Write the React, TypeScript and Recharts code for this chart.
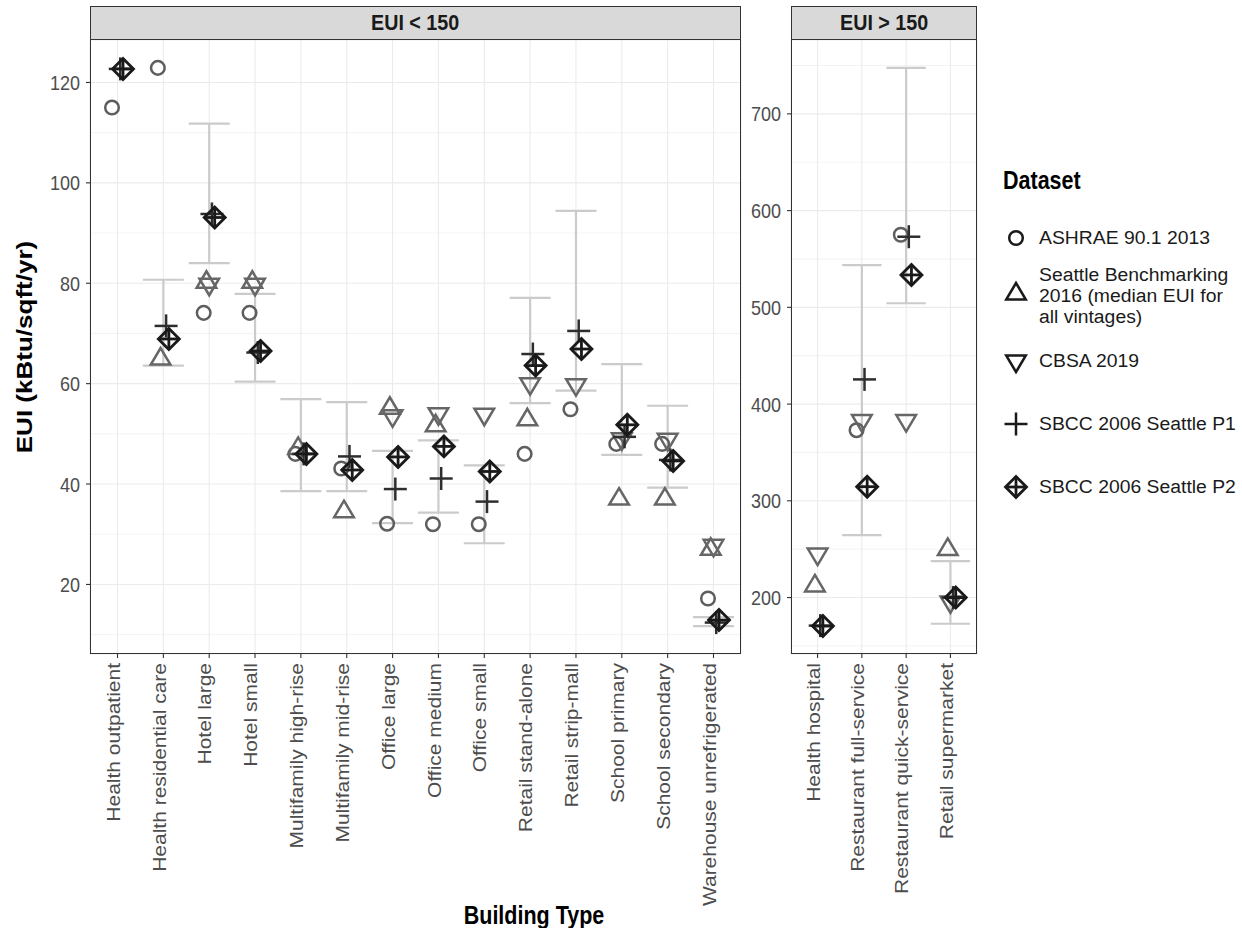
import React from 'react';
import { ScatterChart, Scatter, XAxis, YAxis, CartesianGrid, ErrorBar, ReferenceLine } from 'recharts';

// ---------- data ----------
const leftCategories = [
  'Health outpatient', 'Health residential care', 'Hotel large', 'Hotel small',
  'Multifamily high-rise', 'Multifamily mid-rise', 'Office large', 'Office medium',
  'Office small', 'Retail stand-alone', 'Retail strip-mall', 'School primary',
  'School secondary', 'Warehouse unrefrigerated',
];
const rightCategories = ['Health hospital', 'Restaurant full-service', 'Restaurant quick-service', 'Retail supermarket'];

const datasetNames = ['ASHRAE 90.1 2013', 'Seattle Benchmarking 2016 (median EUI for all vintages)', 'CBSA 2019', 'SBCC 2006 Seattle P1', 'SBCC 2006 Seattle P2'];
const legendLines = [['ASHRAE 90.1 2013'], ['Seattle Benchmarking', '2016 (median EUI for', 'all vintages)'], ['CBSA 2019'], ['SBCC 2006 Seattle P1'], ['SBCC 2006 Seattle P2']];

// EUI < 150 panel
const ashraeLeft = [115.0, 122.9, 74.1, 74.1, 46.0, 43.1, 32.1, 32.0, 32.0, 46.0, 54.9, 48.0, 48.0, 17.2];
const seattleLeft = [null, 64.9, 80.2, 80.2, 47.1, 34.5, 55.1, 51.6, null, 52.8, null, 37.0, 37.0, 27.0];
const cbsaLeft = [null, null, 79.8, 79.8, null, null, 53.6, 54.0, 53.9, 60.0, 59.8, 49.0, 48.9, 27.8];
const p1Left = [122.7, 71.5, 93.8, 66.2, 46.0, 45.5, 39.0, 41.1, 36.5, 65.9, 70.5, 49.4, 44.8, 12.4];
const p2Left = [122.7, 68.9, 93.1, 66.5, 46.0, 42.8, 45.4, 47.5, 42.5, 63.6, 66.9, 51.8, 44.6, 12.9];
const errLowLeft = [null, 63.6, 84.0, 60.4, 38.6, 38.6, 32.2, 34.3, 28.2, 56.1, 58.6, 45.8, 39.3, 11.7];
const errHighLeft = [null, 80.7, 111.8, 77.9, 56.9, 56.3, 46.6, 48.7, 43.7, 77.1, 94.4, 63.9, 55.6, 13.5];

// EUI > 150 panel
const ashraeRight = [null, 373, 575, null];
const seattleRight = [212, null, null, 249.8];
const cbsaRight = [245, 383, 383, 195.5];
const p1Right = [171, 425.5, 573, 200];
const p2Right = [170.5, 314.6, 533.5, 200];
const errLowRight = [null, 264.6, 504.2, 172.9];
const errHighRight = [null, 543.6, 747.5, 237.7];

const leftYTicks = [20, 40, 60, 80, 100, 120];
const leftYMinor = [10, 30, 50, 70, 90, 110, 130];
const rightYTicks = [200, 300, 400, 500, 600, 700];
const rightYMinor = [150, 250, 350, 450, 550, 650, 750];

const dodge = [-0.12, -0.06, 0, 0.06, 0.12];

// ---------- styles ----------
const FONT = '"Liberation Sans", Arial, Helvetica, sans-serif';
const markerColors = ['#5e5e5e', '#666666', '#666666', '#2e2e2e', '#1a1a1a'];
const GRID = '#ebebeb';
const FRAME = '#333333';
const ERR = '#cbcbcb';

type Kind = 'circle' | 'up' | 'down' | 'plus' | 'diamond';
const kinds: Kind[] = ['circle', 'up', 'down', 'plus', 'diamond'];

function Marker({ kind, cx, cy, color }: { kind: Kind; cx: number; cy: number; color: string }) {
  if (cx == null || cy == null || isNaN(cx) || isNaN(cy)) return <g />;
  if (kind === 'circle') return <circle cx={cx} cy={cy} r={6.8} fill="none" stroke={color} strokeWidth={2.5} />;
  if (kind === 'up')
    return <polygon points={`${cx},${cy - 11} ${cx + 9.8},${cy + 5.5} ${cx - 9.8},${cy + 5.5}`} fill="none" stroke={color} strokeWidth={2.5} />;
  if (kind === 'down')
    return <polygon points={`${cx},${cy + 11} ${cx + 9.8},${cy - 5.5} ${cx - 9.8},${cy - 5.5}`} fill="none" stroke={color} strokeWidth={2.5} />;
  if (kind === 'plus')
    return (
      <g stroke={color} strokeWidth={2.5}>
        <line x1={cx - 11.5} y1={cy} x2={cx + 11.5} y2={cy} />
        <line x1={cx} y1={cy - 11.5} x2={cx} y2={cy + 11.5} />
      </g>
    );
  return (
    <g stroke={color} strokeWidth={2.8} fill="none">
      <polygon points={`${cx},${cy - 10.5} ${cx + 10.5},${cy} ${cx},${cy + 10.5} ${cx - 10.5},${cy}`} />
      <line x1={cx - 10.5} y1={cy} x2={cx + 10.5} y2={cy} />
      <line x1={cx} y1={cy - 10.5} x2={cx} y2={cy + 10.5} />
    </g>
  );
}

function buildSeries(values: (number | null)[], k: number) {
  const out: { x: number; y: number }[] = [];
  values.forEach((v, i) => {
    if (v != null) out.push({ x: i + dodge[k], y: v });
  });
  return out;
}

function buildErr(lo: (number | null)[], hi: (number | null)[]) {
  const out: { x: number; y: number; err: number[] }[] = [];
  lo.forEach((l, i) => {
    const h = hi[i];
    if (l != null && h != null) out.push({ x: i, y: l, err: [0, h - l] });
  });
  return out;
}

function expandDomain(arrays: (number | null)[][]): [number, number] {
  const all = arrays.flat().filter((v): v is number => v != null);
  const mn = Math.min(...all);
  const mx = Math.max(...all);
  const pad = (mx - mn) * 0.05;
  return [mn - pad, mx + pad];
}

const AX_FX = 18; // horizontal size of axis text
const AX_FY = 21; // vertical size of axis text

const YTick = (props: any) => {
  const { x, y, payload } = props;
  return (
    <text transform={`translate(${x},${y}) scale(${AX_FX / AX_FY},1)`} x={0} y={0} dy="0.36em" textAnchor="end" fontSize={AX_FY} fill="#4d4d4d" fontFamily={FONT}>
      {payload.value}
    </text>
  );
};

const makeXTick = (cats: string[]) => (props: any) => {
  const { x, y, payload } = props;
  const label = cats[Math.round(payload.value)] ?? '';
  return (
    <text transform={`translate(${x},${y}) rotate(-90) scale(${AX_FY / AX_FX},1)`} x={0} y={0} dy="0.12em" textAnchor="end" fontSize={AX_FX} fill="#4d4d4d" fontFamily={FONT}>
      {label}
    </text>
  );
};

function Panel({ cats, series, errLo, errHi, yTicks, yMinor, capHalf }: {
  cats: string[]; series: (number | null)[][]; errLo: (number | null)[]; errHi: (number | null)[];
  yTicks: number[]; yMinor: number[]; capHalf: number;
}) {
  const domain = expandDomain([...series, errLo, errHi]);
  const xTicks = cats.map((_, i) => i);
  const errData = buildErr(errLo, errHi);
  return (
    <>
      <CartesianGrid stroke={GRID} strokeWidth={1.1} />
      {yMinor.filter((v) => v > domain[0] && v < domain[1]).map((v) => (
        <ReferenceLine key={'m' + v} y={v} stroke={GRID} strokeWidth={0.6} />
      ))}
      <XAxis
        type="number" dataKey="x" domain={[-0.6, cats.length - 0.4]} ticks={xTicks} interval={0}
        allowDataOverflow height={200} tickSize={4} tickMargin={5} axisLine={false}
        tickLine={{ stroke: FRAME, strokeWidth: 1.1 }} tick={makeXTick(cats)}
      />
      <YAxis
        type="number" dataKey="y" domain={domain} ticks={yTicks} interval={0} allowDataOverflow
        width={60} tickSize={4} tickMargin={6} axisLine={false}
        tickLine={{ stroke: FRAME, strokeWidth: 1.1 }} tick={<YTick />}
      />
      <Scatter data={errData} isAnimationActive={false} shape={() => <g />}>
        <ErrorBar dataKey="err" direction="y" width={capHalf} stroke={ERR} strokeWidth={2.2} isAnimationActive={false} />
      </Scatter>
      {series.map((vals, k) => (
        <Scatter
          key={datasetNames[k]}
          name={datasetNames[k]}
          data={buildSeries(vals, k)}
          isAnimationActive={false}
          shape={(p: any) => <Marker kind={kinds[k]} cx={p.cx} cy={p.cy} color={markerColors[k]} />}
        />
      ))}
    </>
  );
}

function LeftChart() {
  const series = [ashraeLeft, seattleLeft, cbsaLeft, p1Left, p2Left];
  const domain = expandDomain([...series, errLowLeft, errHighLeft]);
  return (
    <ScatterChart width={760} height={928} margin={{ top: 40, right: 19, bottom: 74, left: 30 }}>
      {Panel({ cats: leftCategories, series, errLo: errLowLeft, errHi: errHighLeft, yTicks: leftYTicks, yMinor: leftYMinor.filter((v) => v < domain[1]), capHalf: 20.5 })}
    </ScatterChart>
  );
}

function RightChart() {
  const series = [ashraeRight, seattleRight, cbsaRight, p1Right, p2Right];
  return (
    <ScatterChart width={300} height={928} margin={{ top: 40, right: 23, bottom: 74, left: 31 }}>
      {Panel({ cats: rightCategories, series, errLo: errLowRight, errHi: errHighRight, yTicks: rightYTicks, yMinor: rightYMinor, capHalf: 19.7 })}
    </ScatterChart>
  );
}

function Strip({ left, width, label }: { left: number; width: number; label: string }) {
  return (
    <div style={{ position: 'absolute', left, top: 6, width, height: 34, boxSizing: 'border-box', background: '#d9d9d9', border: `1.1px solid ${FRAME}`, display: 'flex', alignItems: 'center', justifyContent: 'center' }}>
      <span style={{ fontWeight: 700, fontSize: 21.5, color: '#1a1a1a', transform: 'scaleX(0.916)', whiteSpace: 'nowrap', lineHeight: '32px' }}>{label}</span>
    </div>
  );
}

function Frame({ left, width }: { left: number; width: number }) {
  return <div style={{ position: 'absolute', left, top: 39, width, height: 615, boxSizing: 'border-box', border: `1.1px solid ${FRAME}`, pointerEvents: 'none' }} />;
}

const legendCenters = [238, 295, 361, 424, 487];
const LEG_LINE = 20.6;

function Legend() {
  return (
    <div>
      <div style={{ position: 'absolute', left: 1003, top: 180 - 15, height: 30, lineHeight: '30px', fontWeight: 700, fontSize: 25, color: '#000', transform: 'scaleX(0.86)', transformOrigin: 'left center', whiteSpace: 'nowrap' }}>Dataset</div>
      {legendLines.map((lines, k) => {
        const cy = legendCenters[k];
        return (
          <React.Fragment key={k}>
            <svg style={{ position: 'absolute', left: 1001, top: cy - 15 }} width={30} height={30}>
              <Marker kind={kinds[k]} cx={15} cy={15 + (k === 1 ? -1 : 0)} color="#1a1a1a" />
            </svg>
            {lines.map((l, j) => {
              const ly = cy + (j - (lines.length - 1) / 2) * LEG_LINE + (k === 1 ? 1 : 0);
              return (
                <div key={j} style={{ position: 'absolute', left: 1039, top: ly - 10, height: 20, lineHeight: '20px', fontSize: 17.6, color: '#1a1a1a', transform: 'scaleX(1.1)', transformOrigin: 'left center', whiteSpace: 'nowrap' }}>
                  {l}
                </div>
              );
            })}
          </React.Fragment>
        );
      })}
    </div>
  );
}

export default function App() {
  return (
    <div style={{ position: 'absolute', left: 0, top: 0, width: 1242, height: 928, background: '#ffffff', fontFamily: FONT, overflow: 'hidden' }}>
      <div style={{ position: 'absolute', left: 0, top: 0 }}><LeftChart /></div>
      <div style={{ position: 'absolute', left: 700, top: 0 }}><RightChart /></div>
      <Frame left={90} width={651} />
      <Frame left={791} width={186} />
      <Strip left={90} width={651} label="EUI < 150" />
      <Strip left={791} width={186} label="EUI > 150" />
      <div style={{ position: 'absolute', left: 25 - 200, top: 347 - 15, width: 400, height: 30, lineHeight: '30px', textAlign: 'center', fontWeight: 700, fontSize: 21.5, color: '#000', transform: 'rotate(-90deg) scaleX(1.21)', whiteSpace: 'nowrap' }}>EUI (kBtu/sqft/yr)</div>
      <div style={{ position: 'absolute', left: 533.5 - 200, top: 915 - 15, width: 400, height: 30, lineHeight: '30px', textAlign: 'center', fontWeight: 700, fontSize: 25, color: '#000', transform: 'scaleX(0.86)', whiteSpace: 'nowrap' }}>Building Type</div>
      <Legend />
    </div>
  );
}
